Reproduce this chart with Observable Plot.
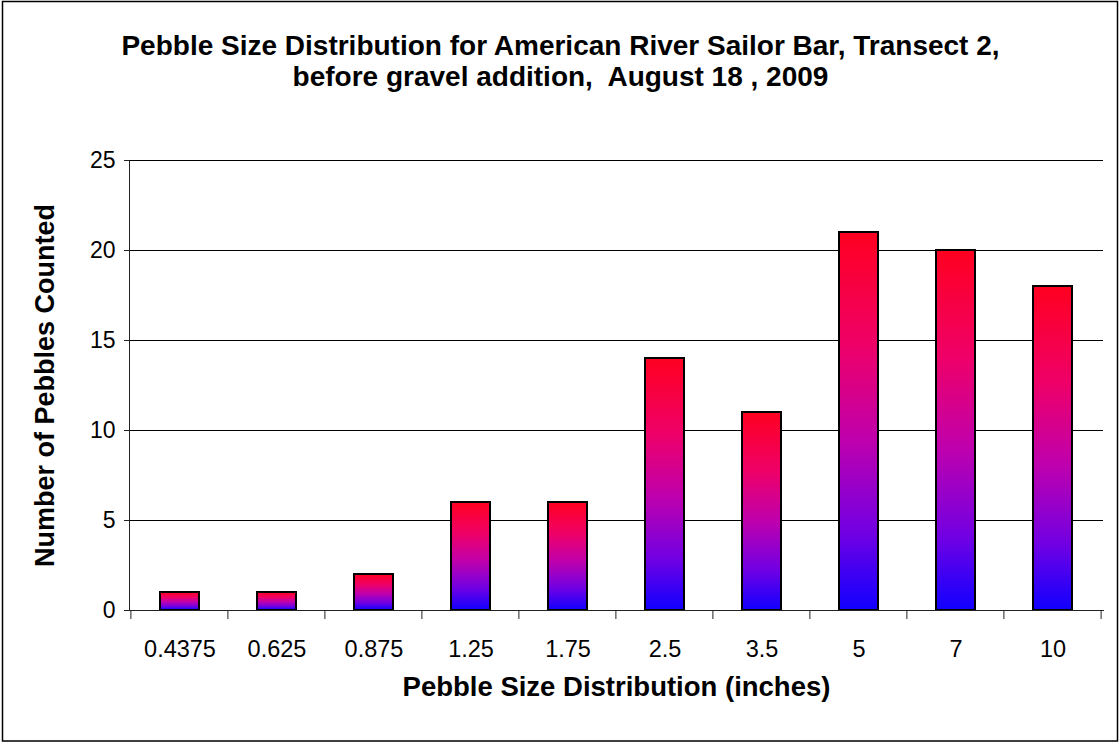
<!DOCTYPE html>
<html>
<head>
<meta charset="utf-8">
<script src="https://cdn.jsdelivr.net/npm/d3@7"></script>
<script src="https://cdn.jsdelivr.net/npm/@observablehq/plot@0.6"></script>
<style>
  html, body { margin: 0; padding: 0; background: #fff; }
  #chart svg { display: block; }
</style>
</head>
<body>
<div id="chart"></div>
<script>
// Pebble counts per size class (inches), Sailor Bar transect 2
const sizes = ["0.4375", "0.625", "0.875", "1.25", "1.75", "2.5", "3.5", "5", "7", "10"];
const counts = [1, 1, 2, 6, 6, 14, 11, 21, 20, 18];
const yTicks = [0, 5, 10, 15, 20, 25];

const titleText = "Pebble Size Distribution for American River Sailor Bar, Transect 2,\nbefore gravel addition,  August 18 , 2009";
const xTitle = "Pebble Size Distribution (inches)";
const yTitle = "Number of Pebbles Counted";

const rows = sizes.map((s, i) => ({size: s, count: counts[i]}));
const font = "'Liberation Sans', Arial, Helvetica, sans-serif";

const plot = Plot.plot({
  width: 1120,
  height: 744,
  marginLeft: 129,
  marginRight: 17,
  marginTop: 160,
  marginBottom: 134,
  style: {fontFamily: font, fontSize: "23px", color: "black", background: "white"},
  x: {domain: sizes, paddingInner: 0.6, paddingOuter: 0.3, label: null},
  y: {domain: [0, 25], label: null},
  marks: [
    Plot.gridY(yTicks.filter(t => t > 0), {stroke: "black", strokeOpacity: 1, strokeWidth: 1}),
    Plot.barY(rows, {x: "size", y: "count", fill: "url(#barFill)", stroke: "black", strokeWidth: 2}),
    Plot.axisY({ticks: yTicks, tickSize: 5, tickPadding: 9, stroke: "#222", fontSize: 23, label: null}),
    Plot.axisX({tickSize: 0, tickPadding: 30, fontSize: 23.5, label: null}),
    Plot.frame({anchor: "left", stroke: "#222"}),
    Plot.frame({anchor: "bottom", stroke: "#222"}),
    Plot.text([xTitle], {frameAnchor: "bottom", dy: 85, fontSize: 27.5, fontWeight: "bold", fill: "black"}),
    Plot.text([yTitle], {frameAnchor: "left", dx: -84, rotate: -90, textAnchor: "middle", lineAnchor: "middle", fontSize: 27, fontWeight: "bold", fill: "black"}),
    Plot.text([titleText], {frameAnchor: "top", dx: -56, dy: -99.5, textAnchor: "middle", lineAnchor: "middle", fontSize: 28, fontWeight: "bold", lineHeight: 1.11, fill: "black"})
  ]
});

const svg = d3.select(plot);

// vertical red-to-blue fill applied to each bar
const grad = svg.insert("defs", ":first-child")
  .append("linearGradient")
  .attr("id", "barFill")
  .attr("x1", 0).attr("y1", 0).attr("x2", 0).attr("y2", 1);
[[0, "#ff0020"], [0.3, "#ee0068"], [0.55, "#bf00ad"], [0.8, "#7000e4"], [1, "#1000ff"]]
  .forEach(([o, c]) => grad.append("stop").attr("offset", o).attr("stop-color", c));

// category separator ticks on the x axis, placed at the band edges
const xs = plot.scale("x");
const ys = plot.scale("y");
const half = xs.step * xs.paddingInner / 2;
const edges = sizes.map(s => xs.apply(s) - half);
edges.push(xs.apply(sizes[sizes.length - 1]) + xs.bandwidth + half);
const y0 = ys.apply(0);
svg.append("g")
  .attr("stroke", "#222")
  .selectAll("line")
  .data(edges)
  .join("line")
  .attr("x1", d => d).attr("x2", d => d)
  .attr("y1", y0).attr("y2", y0 + 9);

// outer chart border
svg.append("rect")
  .attr("x", 2.5).attr("y", 1.5)
  .attr("width", 1115).attr("height", 739.5)
  .attr("fill", "none")
  .attr("stroke", "black")
  .attr("stroke-width", 1.5);

document.getElementById("chart").appendChild(plot);
</script>
</body>
</html>
